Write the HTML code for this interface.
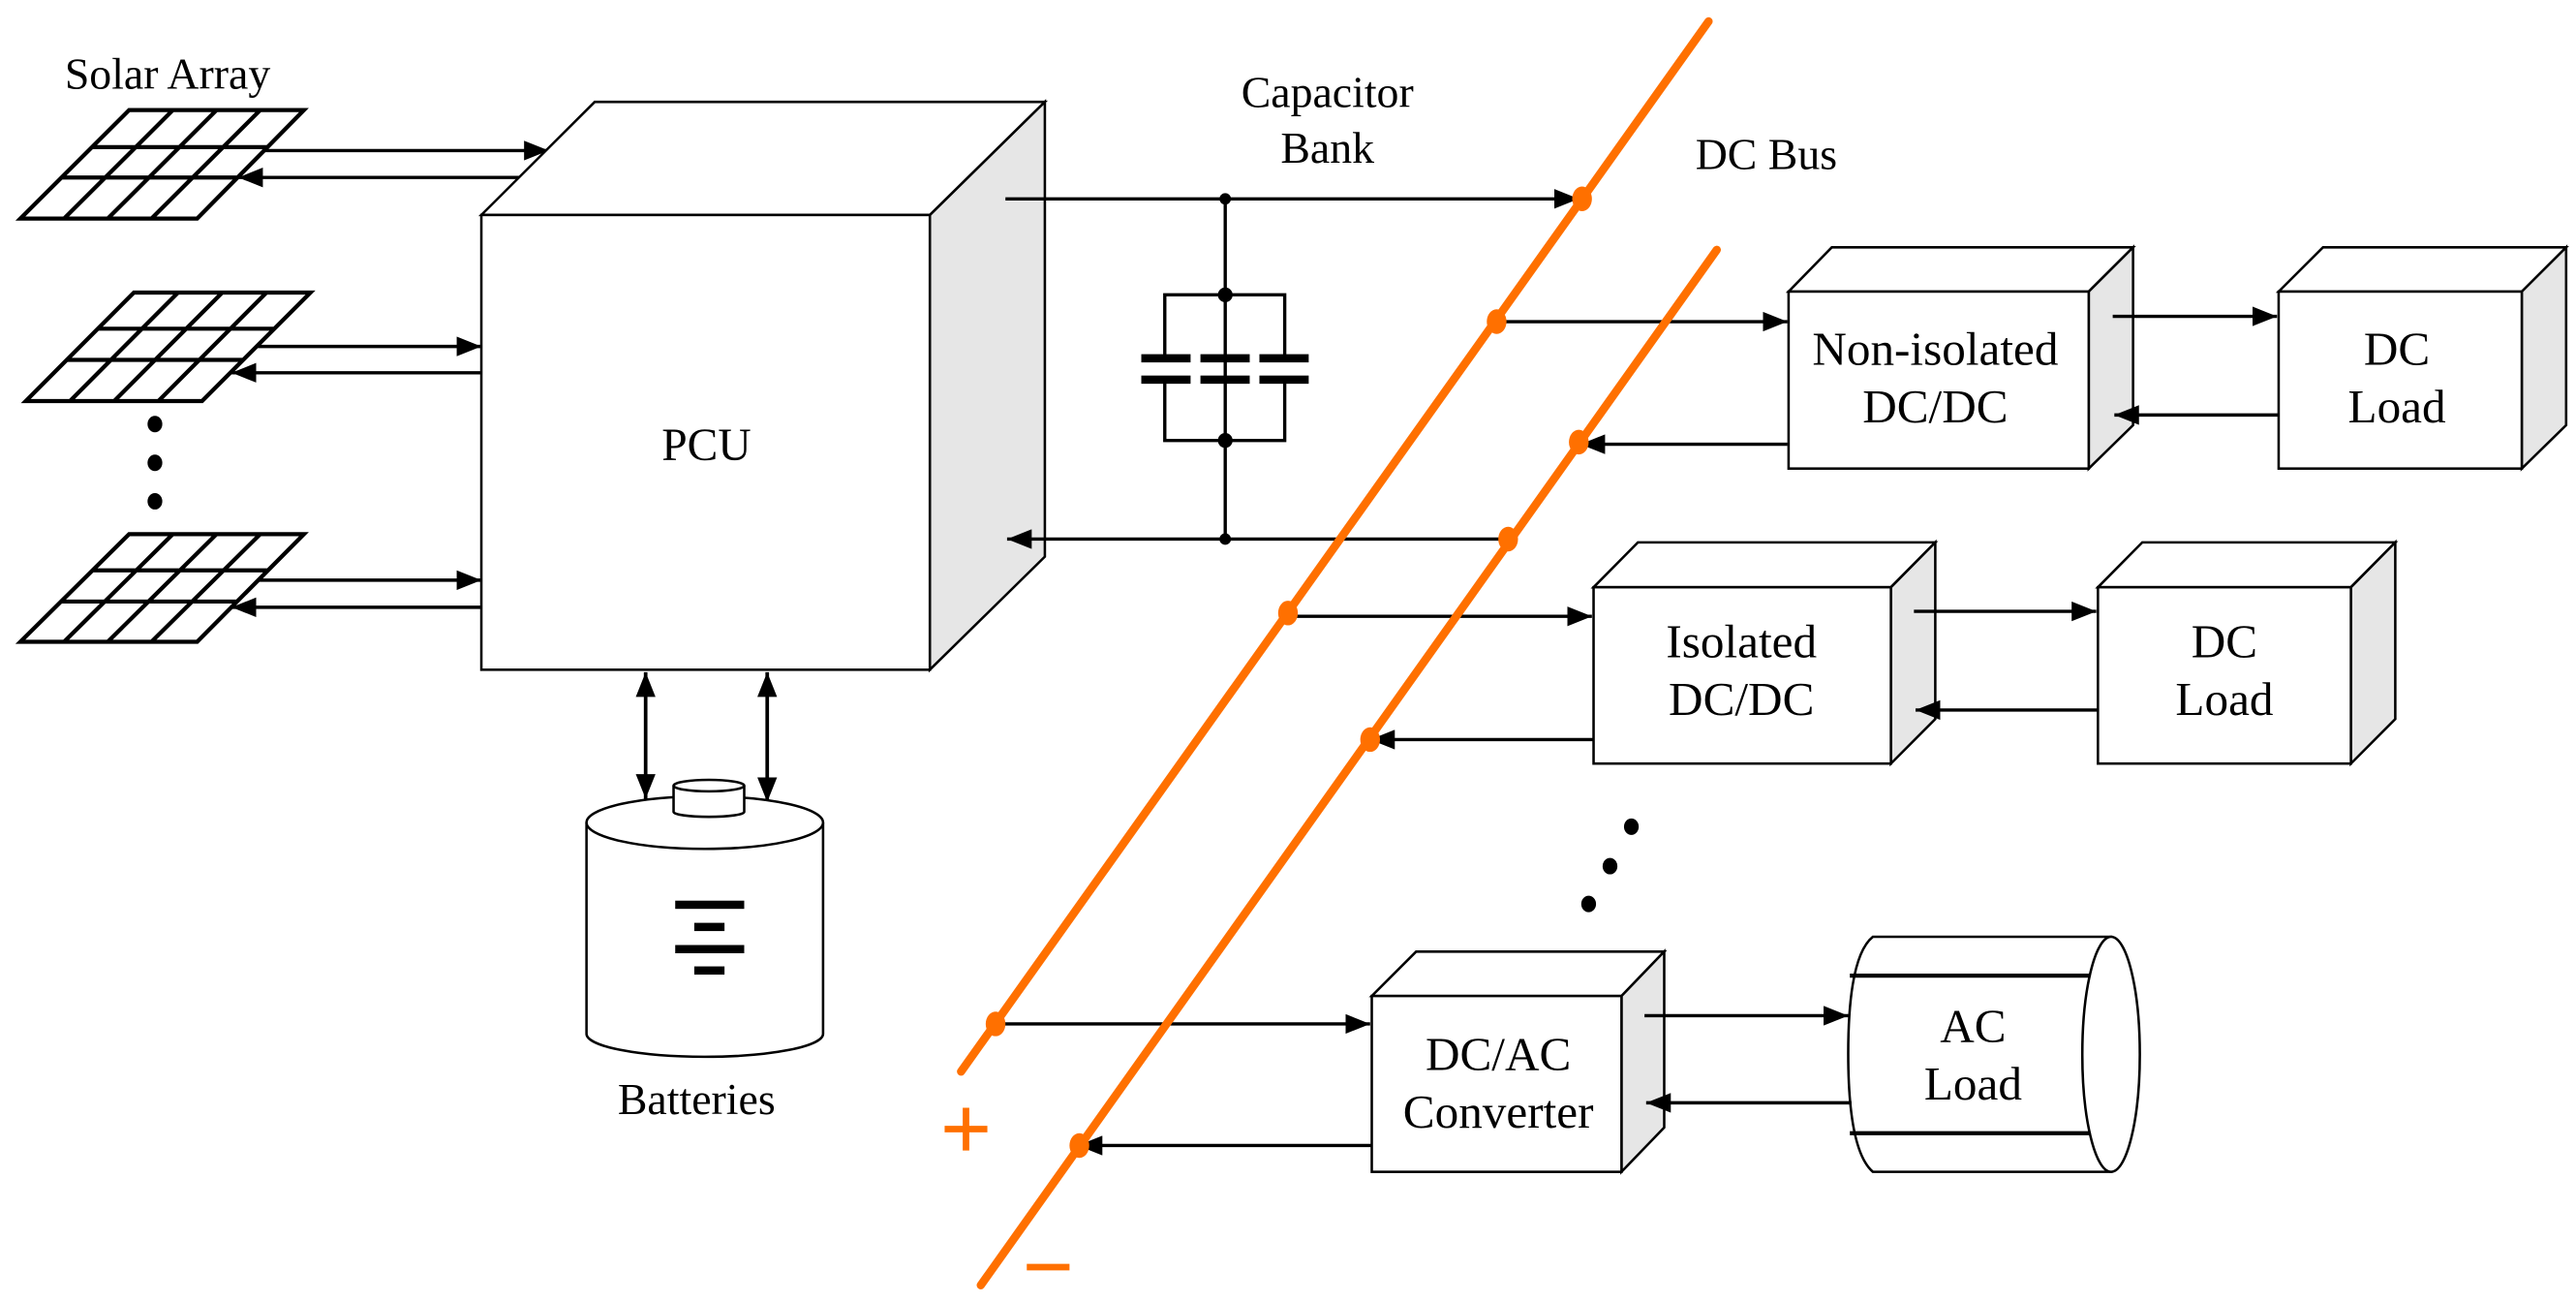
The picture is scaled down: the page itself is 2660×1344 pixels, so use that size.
<!DOCTYPE html>
<html><head><meta charset="utf-8"><style>
html,body{margin:0;padding:0;background:#fff;}
svg{display:block;}
text{font-family:"Liberation Serif",serif;fill:#000;}
</style></head><body>
<svg width="2660" height="1344" viewBox="0 0 1568 792.2" preserveAspectRatio="none" xmlns="http://www.w3.org/2000/svg">
<defs>
<marker id="a" markerUnits="userSpaceOnUse" markerWidth="16" markerHeight="12" refX="15" refY="6" orient="auto-start-reverse"><path d="M0,0 L15,6 L0,12 z" fill="#000"/></marker>
</defs>
<rect width="1568" height="792.2" fill="#fff"/>

<!-- Solar panels -->
<g fill="#fff" stroke="#000" stroke-width="2.5">
<path d="M78.6,67 L185,67 L120,133 L12.4,133 Z M56,89.5 L162.8,89.5 M37.5,108 L144.6,108 M105.2,67 L39,133 M131.8,67 L65.6,133 M158.4,67 L92.2,133"/>
<path d="M81.5,178 L189,178 L123,244 L15.7,244 Z M59.6,200 L167,200 M40.6,219 L148,219 M108.4,178 L42.6,244 M135.3,178 L69.5,244 M162.2,178 L96.4,244"/>
<path d="M78.6,325 L185,325 L120,390.5 L12.4,390.5 Z M56.4,347 L163.2,347 M37.2,366 L144.3,366 M105.2,325 L39,390.5 M131.8,325 L65.6,390.5 M158.4,325 L92.2,390.5"/>
</g>
<g fill="#000"><ellipse cx="94.3" cy="258" rx="4.5" ry="5"/><ellipse cx="94.3" cy="281.6" rx="4.5" ry="5"/><ellipse cx="94.3" cy="305" rx="4.5" ry="5"/></g>

<!-- panel arrows -->
<g stroke="#000" stroke-width="2" fill="none">
<line x1="161" y1="91.6" x2="334" y2="91.6" marker-end="url(#a)"/>
<line x1="316" y1="108" x2="145" y2="108" marker-end="url(#a)"/>
<line x1="157" y1="210.8" x2="293" y2="210.8" marker-end="url(#a)"/>
<line x1="293" y1="226.8" x2="141" y2="226.8" marker-end="url(#a)"/>
<line x1="157" y1="353" x2="293" y2="353" marker-end="url(#a)"/>
<line x1="293" y1="369.5" x2="141" y2="369.5" marker-end="url(#a)"/>
</g>

<!-- PCU -->
<g stroke="#000" stroke-width="1.5">
<path d="M293,130.8 L362,62 L636,62 L566,130.8 Z" fill="#fff"/>
<path d="M566,130.8 L636,62 L636,338.7 L566,407.5 Z" fill="#e6e6e6"/>
<rect x="293" y="130.8" width="273" height="276.7" fill="#fff"/>
</g>
<text x="430" y="280" font-size="28" text-anchor="middle">PCU</text>

<!-- battery arrows -->
<g stroke="#000" stroke-width="2.2">
<line x1="393" y1="409" x2="393" y2="486" marker-start="url(#a)" marker-end="url(#a)"/>
<line x1="467" y1="409" x2="467" y2="488" marker-start="url(#a)" marker-end="url(#a)"/>
</g>

<!-- Battery -->
<g stroke="#000" stroke-width="1.5" fill="#fff">
<path d="M357,500.5 L357,629 A72,14 0 0 0 501,629 L501,500.5"/>
<ellipse cx="429" cy="500.5" rx="72" ry="16"/>
<path d="M410,478 L410,494 A21.5,3 0 0 0 453,494 L453,478"/>
<ellipse cx="431.5" cy="478" rx="21.5" ry="3.5"/>
</g>
<g fill="#000">
<rect x="411" y="548" width="42" height="5"/>
<rect x="422.6" y="561.5" width="18.4" height="5"/>
<rect x="411" y="575" width="42" height="5"/>
<rect x="422.6" y="588" width="18.4" height="5"/>
</g>
<text x="424" y="678" font-size="27" text-anchor="middle">Batteries</text>
<text x="102" y="54" font-size="27" text-anchor="middle">Solar Array</text>

<!-- Capacitor bank -->
<g stroke="#000" stroke-width="2" fill="none">
<line x1="612" y1="121" x2="961" y2="121" marker-end="url(#a)"/>
<line x1="918" y1="328" x2="613" y2="328" marker-end="url(#a)"/>
<line x1="745.8" y1="121" x2="745.8" y2="328"/>
<path d="M709,216 L709,179.4 L782,179.4 L782,216"/>
<path d="M709,233 L709,268 L782,268 L782,233"/>
</g>
<g fill="#000">
<rect x="694.7" y="215.5" width="30" height="5"/><rect x="730.7" y="215.5" width="30" height="5"/><rect x="766.6" y="215.5" width="30" height="5"/>
<rect x="694.7" y="228.5" width="30" height="5"/><rect x="730.7" y="228.5" width="30" height="5"/><rect x="766.6" y="228.5" width="30" height="5"/>
<circle cx="745.8" cy="179.4" r="4.5"/><circle cx="745.8" cy="268" r="4.5"/><circle cx="745.8" cy="121" r="3.5"/><circle cx="745.8" cy="328" r="3.5"/>
</g>
<text x="808" y="65" font-size="27" text-anchor="middle">Capacitor</text>
<text x="808" y="99" font-size="27" text-anchor="middle">Bank</text>
<text x="1032" y="103" font-size="27">DC Bus</text>

<!-- Non-isolated DC/DC -->
<g stroke="#000" stroke-width="1.5">
<path d="M1088.7,177.4 L1115,150.5 L1298.4,150.5 L1271.4,177.4 Z" fill="#fff"/>
<path d="M1271.4,177.4 L1298.4,150.5 L1298.4,258.7 L1271.4,285.1 Z" fill="#e6e6e6"/>
<rect x="1088.7" y="177.4" width="182.7" height="107.7" fill="#fff"/>
<path d="M1387,177.4 L1414,150.5 L1562,150.5 L1535,177.4 Z" fill="#fff"/>
<path d="M1535,177.4 L1562,150.5 L1562,258.7 L1535,285.1 Z" fill="#e6e6e6"/>
<rect x="1387" y="177.4" width="148" height="107.7" fill="#fff"/>
</g>
<text x="1178" y="222" font-size="29" text-anchor="middle">Non-isolated</text>
<text x="1178" y="257" font-size="29" text-anchor="middle">DC/DC</text>
<text x="1459" y="222" font-size="29" text-anchor="middle">DC</text>
<text x="1459" y="257" font-size="29" text-anchor="middle">Load</text>

<!-- Isolated DC/DC -->
<g stroke="#000" stroke-width="1.5">
<path d="M970,357.3 L997,330 L1178,330 L1151,357.3 Z" fill="#fff"/>
<path d="M1151,357.3 L1178,330 L1178,437.5 L1151,464.6 Z" fill="#e6e6e6"/>
<rect x="970" y="357.3" width="181" height="107.3" fill="#fff"/>
<path d="M1277,357.3 L1304,330 L1458,330 L1431,357.3 Z" fill="#fff"/>
<path d="M1431,357.3 L1458,330 L1458,437.5 L1431,464.6 Z" fill="#e6e6e6"/>
<rect x="1277" y="357.3" width="154" height="107.3" fill="#fff"/>
</g>
<text x="1060" y="400" font-size="29" text-anchor="middle">Isolated</text>
<text x="1060" y="435" font-size="29" text-anchor="middle">DC/DC</text>
<text x="1354" y="400" font-size="29" text-anchor="middle">DC</text>
<text x="1354" y="435" font-size="29" text-anchor="middle">Load</text>

<g fill="#000"><ellipse cx="993" cy="503" rx="4.5" ry="5"/><ellipse cx="980" cy="527" rx="4.5" ry="5"/><ellipse cx="967" cy="550" rx="4.5" ry="5"/></g>

<!-- DC/AC -->
<g stroke="#000" stroke-width="1.5">
<path d="M835,606 L862,579 L1013,579 L987,606 Z" fill="#fff"/>
<path d="M987,606 L1013,579 L1013,686 L987,713 Z" fill="#e6e6e6"/>
<rect x="835" y="606" width="152" height="107" fill="#fff"/>
</g>
<text x="912" y="651" font-size="29" text-anchor="middle">DC/AC</text>
<text x="912" y="686" font-size="29" text-anchor="middle">Converter</text>

<!-- AC load cylinder -->
<g stroke="#000" stroke-width="1.5" fill="#fff">
<path d="M1140,570 L1285,570 L1285,713 L1140,713 Q1125,700 1125,641 Q1125,582 1140,570 Z"/>
<ellipse cx="1285" cy="641.5" rx="17.5" ry="71.5"/>
</g>
<g stroke="#000" stroke-width="2.5"><line x1="1126" y1="593.6" x2="1272" y2="593.6"/><line x1="1126" y1="689.5" x2="1272" y2="689.5"/></g>
<text x="1201" y="634" font-size="29" text-anchor="middle">AC</text>
<text x="1201" y="669" font-size="29" text-anchor="middle">Load</text>

<!-- right side arrows -->
<g stroke="#000" stroke-width="2" fill="none">
<line x1="910" y1="195.7" x2="1088" y2="195.7" marker-end="url(#a)"/>
<line x1="1088" y1="270.3" x2="962" y2="270.3" marker-end="url(#a)"/>
<line x1="1286" y1="192.5" x2="1386" y2="192.5" marker-end="url(#a)"/>
<line x1="1387" y1="252.5" x2="1287" y2="252.5" marker-end="url(#a)"/>
<line x1="783" y1="375" x2="969" y2="375" marker-end="url(#a)"/>
<line x1="970" y1="450" x2="834" y2="450" marker-end="url(#a)"/>
<line x1="1165" y1="372" x2="1276" y2="372" marker-end="url(#a)"/>
<line x1="1277" y1="432" x2="1166" y2="432" marker-end="url(#a)"/>
<line x1="606" y1="623" x2="834" y2="623" marker-end="url(#a)"/>
<line x1="835" y1="697" x2="656" y2="697" marker-end="url(#a)"/>
<line x1="1001" y1="618" x2="1125" y2="618" marker-end="url(#a)"/>
<line x1="1127" y1="671" x2="1002" y2="671" marker-end="url(#a)"/>
</g>

<!-- DC bus lines -->
<g stroke="#ff7000" stroke-width="5" stroke-linecap="round">
<line x1="1040" y1="13" x2="585" y2="652"/>
<line x1="1045" y1="152" x2="597" y2="782"/>
</g>
<g fill="#ff7000">
<ellipse cx="963" cy="121" rx="6" ry="7.5"/>
<ellipse cx="911" cy="195.7" rx="6" ry="7.5"/>
<ellipse cx="784" cy="373" rx="6" ry="7.5"/>
<ellipse cx="606" cy="623" rx="6" ry="7.5"/>
<ellipse cx="961" cy="269" rx="6" ry="7.5"/>
<ellipse cx="918" cy="328" rx="6" ry="7.5"/>
<ellipse cx="834" cy="450" rx="6" ry="7.5"/>
<ellipse cx="657" cy="697" rx="6" ry="7.5"/>
</g>
<g stroke="#ff7000" stroke-width="4">
<line x1="575" y1="687" x2="601" y2="687"/><line x1="588" y1="674" x2="588" y2="700"/>
<line x1="625" y1="771" x2="651" y2="771"/>
</g>
</svg>
</body></html>
